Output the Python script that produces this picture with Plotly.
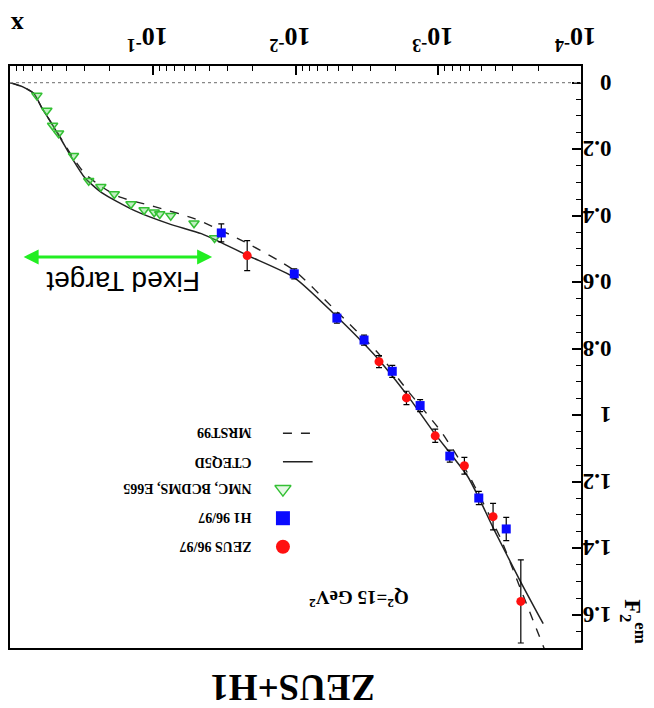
import plotly.graph_objects as go

# ---- structure function data, Q^2 = 15 GeV^2 ----
zeus_x = [0.0218, 0.0026, 0.00167, 0.00105, 0.000656, 0.000413, 0.000264]
zeus_f2 = [0.520, 0.839, 0.948, 1.062, 1.152, 1.305, 1.560]
zeus_err = [0.045, 0.018, 0.02, 0.02, 0.025, 0.04, 0.125]

h1_x = [0.0331, 0.0102, 0.00513, 0.00331, 0.0021, 0.00134, 0.00083, 0.00052, 0.000334]
h1_f2 = [0.452, 0.575, 0.708, 0.774, 0.868, 0.971, 1.123, 1.249, 1.342]
h1_err = [0.027, 0.015, 0.015, 0.015, 0.018, 0.018, 0.018, 0.02, 0.035]

fixed_x = [0.648, 0.552, 0.503, 0.457, 0.359, 0.281, 0.231, 0.186, 0.142, 0.115,
           0.0977, 0.0893, 0.0748, 0.0514, 0.0369]
fixed_f2 = [0.039, 0.084, 0.129, 0.152, 0.220, 0.295, 0.313, 0.335, 0.365, 0.383,
            0.390, 0.395, 0.400, 0.423, 0.467]

# ---- parton distribution fits ----
cteq_x = [1.0, 0.82, 0.68, 0.60, 0.51, 0.434, 0.369, 0.299, 0.228, 0.134, 0.0776,
          0.0457, 0.0331, 0.0216, 0.0102, 0.00538, 0.00265, 0.00164, 0.00108,
          0.00078, 0.00062, 0.00052, 0.00041, 0.000267, 0.000184]
cteq_f2 = [0.0, 0.012, 0.033, 0.075, 0.123, 0.174, 0.226, 0.286, 0.331, 0.385, 0.424,
           0.454, 0.481, 0.520, 0.586, 0.695, 0.830, 0.941, 1.050,
           1.128, 1.185, 1.248, 1.341, 1.498, 1.627]

mrst_x = [1.0, 0.82, 0.68, 0.60, 0.51, 0.434, 0.369, 0.299, 0.228, 0.173, 0.0972,
          0.0511, 0.0229, 0.0102, 0.00538, 0.00265, 0.00164, 0.000964, 0.000625,
          0.000368, 0.000267, 0.000173]
mrst_f2 = [0.0, 0.012, 0.033, 0.075, 0.123, 0.171, 0.220, 0.274, 0.313, 0.343, 0.373,
           0.409, 0.478, 0.565, 0.680, 0.812, 0.926, 1.047, 1.173,
           1.368, 1.519, 1.723]

legend_labels = ["MRST99", "CTEQ5D", "NMC, BCDMS, E665", "H1 96/97", "ZEUS 96/97"]

x_tick_vals = [1e-4, 1e-3, 1e-2, 1e-1]
x_tick_text = ["10<sup>-4</sup>", "10<sup>-3</sup>", "10<sup>-2</sup>", "10<sup>-1</sup>"]
y_tick_vals = [0, 0.2, 0.4, 0.6, 0.8, 1, 1.2, 1.4, 1.6]
y_tick_text = ["0", "0.2", "0.4", "0.6", "0.8", "1", "1.2", "1.4", "1.6"]

SERIF = "Liberation Serif, Times New Roman, serif"
RED = "#ff1010"
BLUE = "#0a0aff"
GREEN = "#33c033"

fig = go.Figure()

fig.add_trace(go.Scatter(x=mrst_x, y=mrst_f2, mode="lines",
                         line=dict(color="#222", width=1.4, dash="dash", shape="spline", smoothing=0.6)))
fig.add_trace(go.Scatter(x=cteq_x, y=cteq_f2, mode="lines",
                         line=dict(color="#222", width=1.5, shape="spline", smoothing=0.6)))
fig.add_trace(go.Scatter(x=fixed_x, y=fixed_f2, mode="markers",
                         marker=dict(symbol="triangle-down", size=9, color="rgba(80,210,80,0.35)",
                                     line=dict(color=GREEN, width=1.5))))
fig.add_trace(go.Scatter(x=h1_x, y=h1_f2, mode="markers",
                         error_y=dict(type="data", array=h1_err, color="black", thickness=1.2, width=3),
                         marker=dict(symbol="square", size=9, color=BLUE)))
fig.add_trace(go.Scatter(x=zeus_x, y=zeus_f2, mode="markers",
                         error_y=dict(type="data", array=zeus_err, color="black", thickness=1.2, width=3),
                         marker=dict(symbol="circle", size=9, color=RED)))

# legend drawn on an overlay axis spanning the plot area
leg_x0, leg_x1 = 0.478, 0.530
leg_y = [0.369, 0.320, 0.273, 0.223, 0.174]
fig.add_trace(go.Scatter(x=[leg_x0, leg_x1], y=[leg_y[0]] * 2, mode="lines",
                         line=dict(color="#222", width=1.4, dash="dash"), xaxis="x2", yaxis="y2"))
fig.add_trace(go.Scatter(x=[leg_x0, leg_x1], y=[leg_y[1]] * 2, mode="lines",
                         line=dict(color="#222", width=1.5), xaxis="x2", yaxis="y2"))
fig.add_trace(go.Scatter(x=[leg_x0], y=[leg_y[2]], mode="markers", xaxis="x2", yaxis="y2",
                         marker=dict(symbol="triangle-down", size=14, color="rgba(80,210,80,0.15)",
                                     line=dict(color=GREEN, width=1.5))))
fig.add_trace(go.Scatter(x=[leg_x0], y=[leg_y[3]], mode="markers", xaxis="x2", yaxis="y2",
                         marker=dict(symbol="square", size=14, color=BLUE)))
fig.add_trace(go.Scatter(x=[leg_x0], y=[leg_y[4]], mode="markers", xaxis="x2", yaxis="y2",
                         marker=dict(symbol="circle", size=14, color=RED)))


def label(text, x, y, size, angle=180, family=SERIF, xanchor="center"):
    return dict(text=text, x=x, y=y, xref="paper", yref="paper", xanchor=xanchor,
                yanchor="middle", showarrow=False, textangle=angle,
                font=dict(family=family, size=size, color="black"))


annotations = [label("<b>" + lab + "</b>", 0.426, yy, 14, xanchor="right")
               for lab, yy in zip(legend_labels, leg_y)]

annotations += [
    label("<b>Q<sup>2</sup>=15 GeV<sup>2</sup></b>", 0.611, 0.083, 19),
    label("<b>ZEUS+H1</b>", 0.495, -0.069, 37),
    label("<b>x</b>", 0.012, 1.070, 26),
    label("<b>F<sub>2</sub><sup>em</sup></b>", 1.092, 0.045, 24, angle=90),
    label("Fixed Target", 0.197, 0.631, 28, family="Liberation Sans, Arial, sans-serif"),
    dict(text="", x=0.0239, y=0.672, xref="paper", yref="paper", ax=190, ay=0,
         axref="pixel", ayref="pixel", showarrow=True, arrowside="end+start",
         arrowhead=2, arrowsize=1.0, arrowwidth=3, arrowcolor="#22ee22"),
]

minor_x = [m * 10 ** e for e in range(-4, 0) for m in range(2, 10)]

fig.update_layout(
    width=654, height=708,
    margin=dict(l=8, r=73, t=66, b=60),
    paper_bgcolor="white", plot_bgcolor="white",
    showlegend=False,
    xaxis=dict(type="log", range=[0, -4], side="top", tickvals=x_tick_vals, ticktext=x_tick_text,
               tickangle=180, ticks="inside", ticklen=9, tickwidth=1.5, tickcolor="black",
               ticklabelstandoff=0, ticklabelshift=-15,
               minor=dict(tickvals=minor_x, ticks="inside", ticklen=5, tickcolor="black", tickwidth=1),
               showline=True, linecolor="black", linewidth=2, mirror=True, showgrid=False,
               zeroline=False,
               tickfont=dict(family=SERIF, size=26, color="black", weight="bold")),
    yaxis=dict(range=[1.70, -0.05], side="right", tickvals=y_tick_vals, ticktext=y_tick_text,
               tickangle=180, ticks="inside", ticklen=9, tickwidth=1.5, tickcolor="black",
               ticklabelstandoff=24, ticklabelshift=-7,
               minor=dict(dtick=0.05, ticks="inside", ticklen=5, tickcolor="black", tickwidth=1),
               showline=True, linecolor="black", linewidth=2, mirror=True, showgrid=False,
               zeroline=False,
               tickfont=dict(family=SERIF, size=23, color="black", weight="bold")),
    xaxis2=dict(overlaying="x", range=[0, 1], visible=False),
    yaxis2=dict(overlaying="y", range=[0, 1], visible=False),
    annotations=annotations,
    shapes=[dict(type="line", xref="paper", yref="y", x0=0, x1=1, y0=0, y1=0,
                 line=dict(color="#888", width=1.2, dash="dot"))],
)

fig.write_html("out.html")
